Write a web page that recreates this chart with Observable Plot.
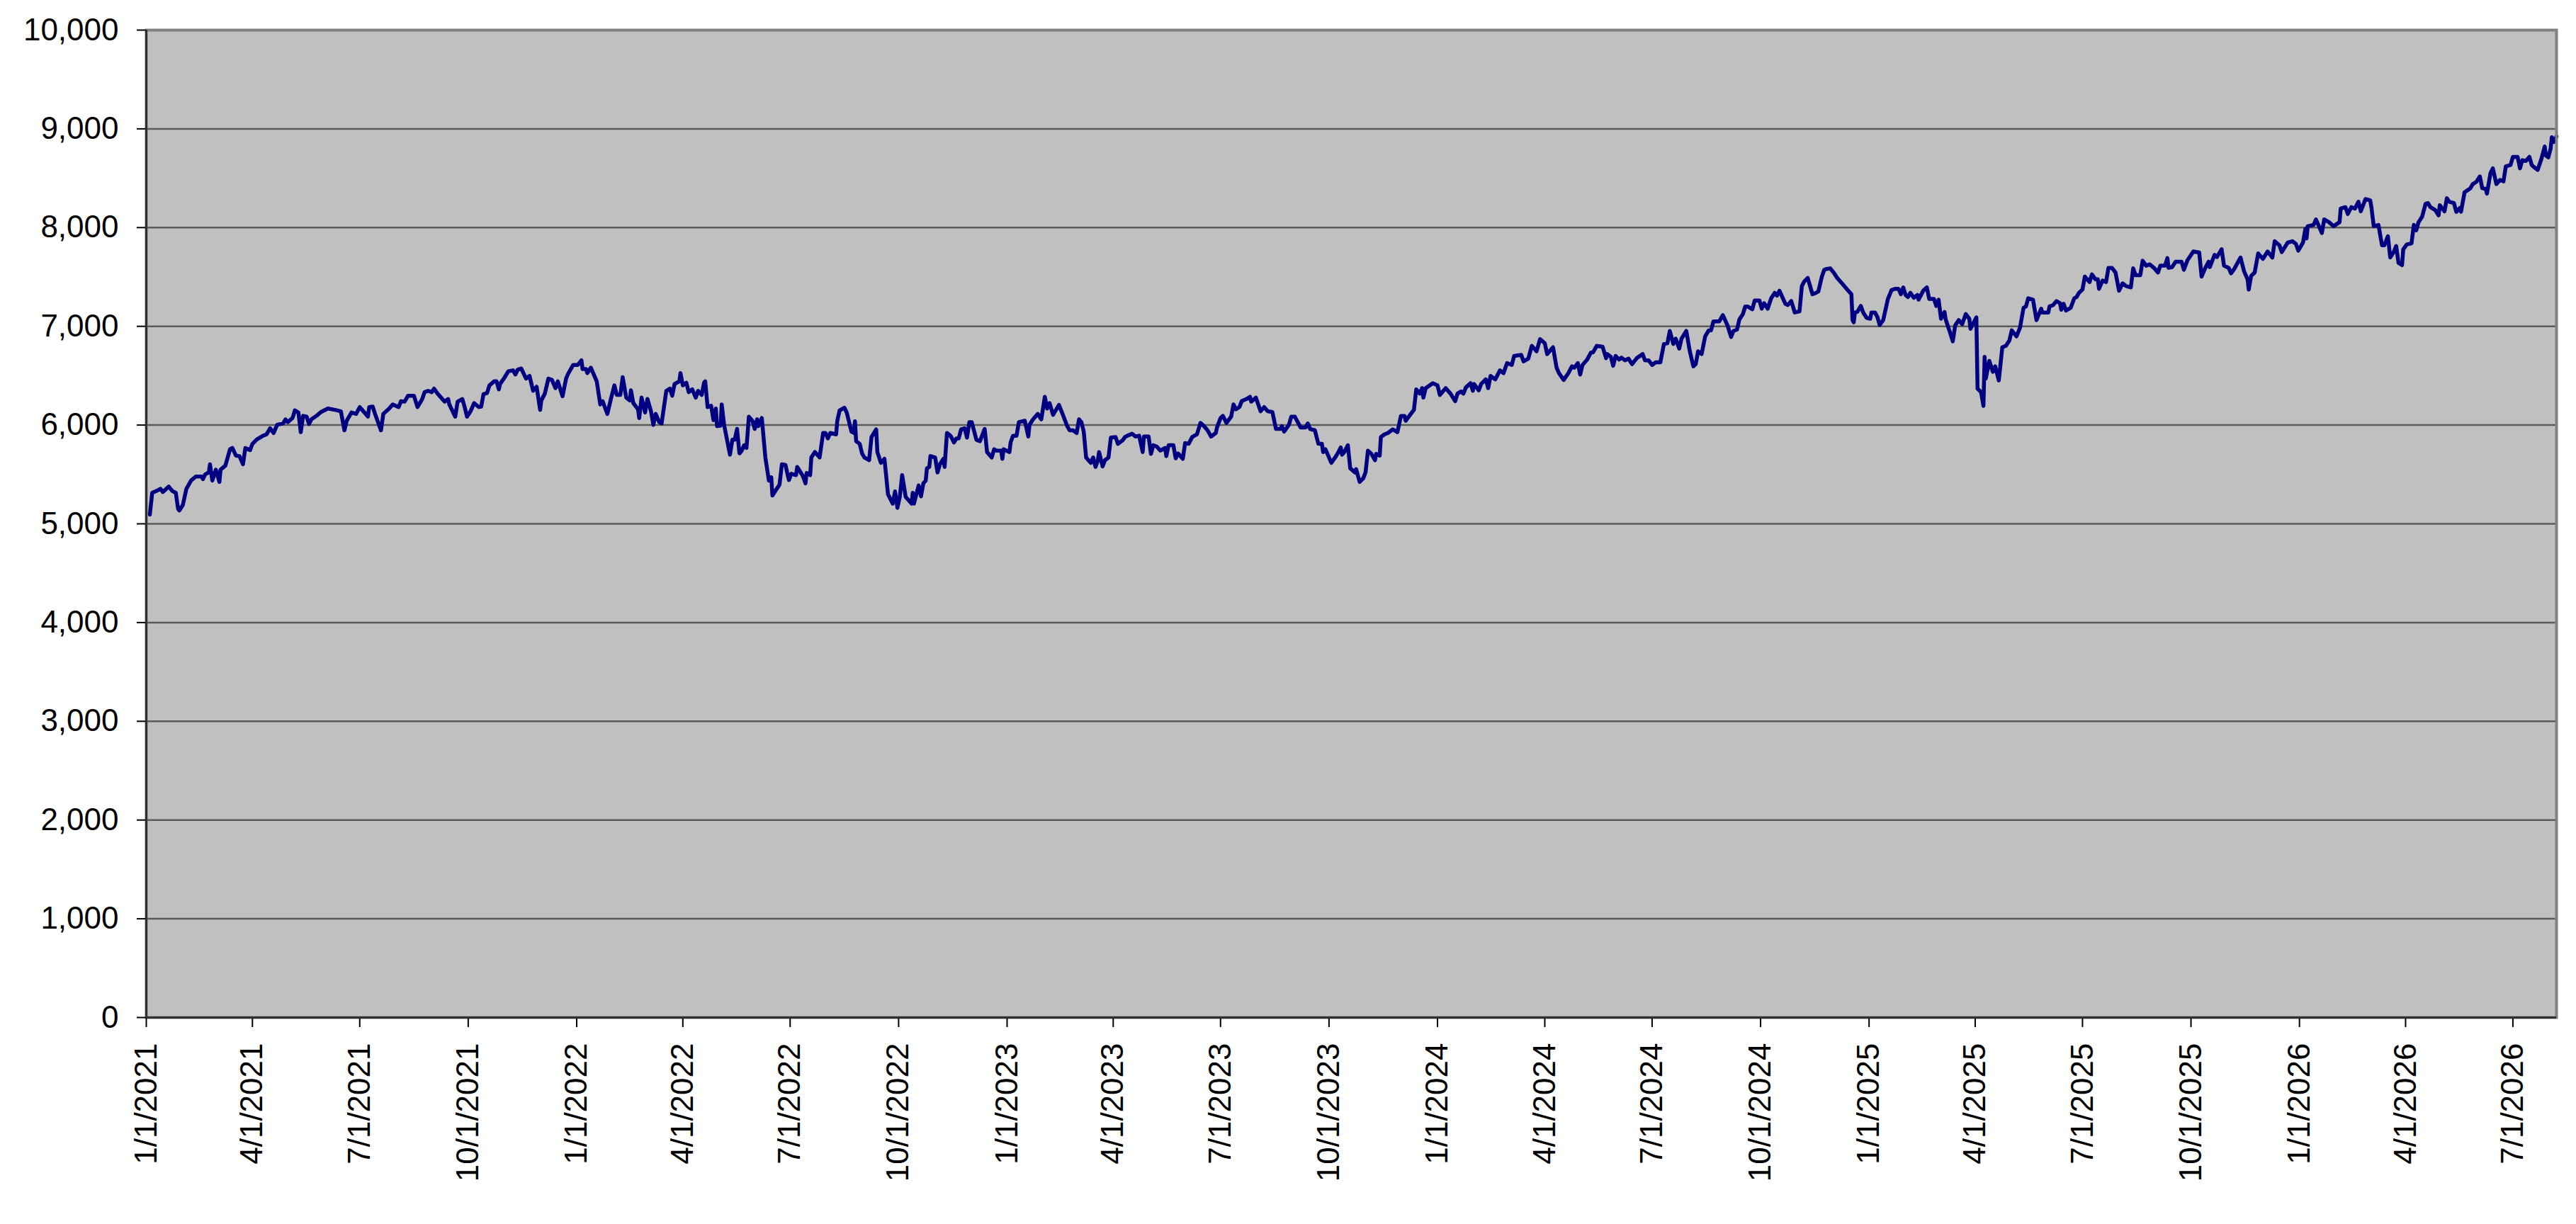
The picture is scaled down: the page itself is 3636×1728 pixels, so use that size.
<!DOCTYPE html>
<html>
<head>
<meta charset="utf-8">
<script src="https://cdn.jsdelivr.net/npm/d3@7"></script>
<script src="https://cdn.jsdelivr.net/npm/@observablehq/plot@0.6"></script>
<style>
  html, body { margin: 0; padding: 0; background: #ffffff; }
  #chart svg { display: block; }
</style>
</head>
<body>
<div id="chart"></div>
<script>
// Series start date; x values are day offsets from this date
const startDate = "2021-01-01";

const dayOffsets = [
  3,5,10,12,14,19,22,25,27,28,31,34,38,42,47,48,50,53,54,56,59,62,63,67,71,73,76,79,82,84,88,90,94,99,102,105,108,111,116,118,120,124,126,129,131,133,136,138,140,145,148,154,160,165,168,170,174,178,181,185,188,189,192,194,199,201,206,209,214,216,219,222,227,230,234,236,239,242,244,247,
  253,256,257,262,264,268,270,272,275,278,282,284,286,289,291,295,297,299,300,304,307,311,313,315,318,322,325,328,331,334,335,338,341,344,347,349,353,356,358,362,366,369,370,373,374,377,382,385,387,391,394,397,399,402,404,407,410,411,413,417,418,420,423,425,428,430,432,435,437,441,444,446,448,452,453,455,458,460,463,466,468,471,473,474,476,479,481,483,484,487,488,490,495,497,499,
  501,503,505,507,509,511,514,516,518,519,522,525,528,530,531,534,537,539,542,544,545,547,551,552,555,557,559,560,563,564,567,569,571,574,576,578,580,585,586,588,592,594,598,600,601,602,605,607,609,613,615,619,620,623,626,629,633,635,637,639,641,644,649,650,651,655,657,659,661,662,664,665,669,671,673,676,677,679,682,685,687,689,691,694,696,698,700,704,707,711,713,717,719,721,725,726,727,732,733,735,738,740,745,748,749,752,
  756,759,762,764,766,769,774,777,781,783,786,789,791,793,795,797,801,803,805,807,808,811,813,816,818,822,824,828,830,832,836,839,842,845,846,850,852,854,857,860,864,865,867,871,873,875,879,881,884,887,891,894,897,900,903,907,908,911,913,916,920,922,924,927,929,933,936,937,941,945,948,951,955,958,962,963,965,969,971,974,979,983,985,987,991,994,997,998,1000,1005,
  1009,1011,1013,1014,1016,1019,1021,1025,1026,1029,1032,1034,1036,1039,1042,1043,1046,1047,1050,1053,1057,1061,1064,1067,1068,1075,1077,1080,1082,1083,1085,1091,1095,1097,1102,1106,1110,1112,1115,1117,1119,1123,1125,1126,1130,1132,1136,1138,1140,1144,1148,1151,1154,1158,1160,1166,1168,1172,1175,1179,1182,1186,1188,1191,1193,1196,1198,1202,1206,1209,1211,1214,1216,1218,1222,1225,1227,1230,1235,1238,1239,1242,1244,1246,1249,1251,1254,1257,
  1260,1264,1269,1271,1274,1277,1280,1284,1287,1290,1292,1295,1297,1300,1302,1306,1309,1312,1314,1316,1319,1322,1325,1327,1329,1334,1337,1341,1344,1346,1349,1351,1354,1356,1358,1362,1364,1368,1370,1372,1375,1378,1381,1383,1385,1390,1392,1395,1398,1402,1404,1406,1409,1413,1416,1418,1421,1423,1425,1428,1431,1434,1438,1443,1446,1447,1448,1449,1451,1454,1456,1459,1462,1463,1466,1468,1470,1473,1477,1480,1483,1486,1488,1490,1492,1494,1496,1499,1502,1503,1507,1510,
  1512,1516,1518,1520,1522,1525,1526,1530,1532,1534,1537,1540,1543,1546,1547,1552,1553,1556,1558,1559,1560,1563,1566,1568,1571,1574,1577,1580,1582,1586,1589,1592,1594,1596,1600,1603,1607,1608,1613,1614,1617,1620,1623,1624,1626,1628,1632,1635,1637,1639,1642,1644,1648,1650,1653,1655,1656,1659,1662,1664,1667,1670,1673,1676,1679,1683,1685,1687,1691,1693,1696,1699,1703,1706,1708,1712,1714,1715,1718,1721,1726,1728,1731,1736,1741,1743,1746,1749,1750,1754,1756,1760,1762,
  1766,1768,1771,1776,1779,1782,1783,1785,1788,1791,1795,1799,1803,1805,1809,1811,1816,1820,1823,1825,1829,1831,1832,1833,1838,1840,1845,1847,1851,1855,1860,1861,1865,1867,1870,1873,1876,1878,1882,1886,1887,1889,1893,1896,1898,1901,1903,1906,1908,1910,1913,1914,1917,1921,1923,1925,1927,1930,1933,1935,1937,1941,1944,1945,1949,1951,1953,1957,1959,1962,1963,1966,1971,1973,1976,1979,1981,1984,1985,1988,1990,1993,1996,1999,2001,2005,2007,2011,2013,2015,2018,2021,2023,2025,2028,2031,2034,2035,2037,2039,2040,2042,2044
];

// Values at each of those days
const values = [
  5094,5314,5341,5355,5322,5377,5333,5314,5149,5135,5190,5355,5438,5479,5479,5452,5501,5520,5603,5438,5548,5424,5548,5589,5755,5768,5691,5686,5603,5768,5746,5810,5857,5892,5906,5967,5920,6003,6016,6058,6030,6071,6149,6127,5928,6093,6085,6011,6058,6099,6132,6168,6154,6140,5947,6044,6127,6113,6182,6127,6085,6182,6187,6113,5947,6113,6168,6209,6182,6242,6237,6297,6297,6182,6264,6333,6347,6333,6369,6319,
  6237,6264,6209,6085,6237,6264,6182,6085,6140,6223,6182,6187,6314,6325,6402,6443,6443,6361,6416,6485,6545,6554,6512,6562,6573,6471,6498,6347,6388,6154,6250,6319,6471,6457,6374,6443,6292,6471,6526,6609,6609,6656,6567,6567,6526,6581,6443,6209,6242,6113,6264,6402,6305,6305,6485,6278,6250,6352,6223,6160,6071,6278,6127,6264,6140,6003,6113,6030,6016,6347,6369,6297,6416,6443,6526,6402,6429,6333,6361,6278,6347,6305,6429,6443,6182,6195,6050,6168,5989,5994,6209,6003,5700,5851,5851,
  5961,5713,5741,5796,5768,6085,6044,5961,6058,5989,6071,5672,5438,5471,5287,5342,5397,5603,5598,5493,5443,5507,5493,5576,5520,5479,5410,5515,5493,5672,5727,5700,5672,5920,5920,5865,5920,5906,6044,6149,6176,6127,5934,5920,6038,5837,5810,5713,5672,5644,5879,5956,5727,5617,5658,5300,5204,5328,5162,5273,5493,5273,5204,5314,5204,5388,5278,5410,5438,5562,5576,5686,5672,5520,5603,5658,5576,5920,5892,5824,5865,5865,5956,5967,5873,6030,6030,5851,5837,5961,5727,5672,5755,5741,5741,5658,5755,5727,5824,5892,5892,6030,6044,5884,6003,6058,
  6113,6058,6286,6168,6223,6104,6204,6113,5989,5947,5947,5920,6058,6030,5934,5672,5617,5672,5576,5644,5727,5581,5644,5672,5873,5879,5810,5846,5879,5892,5912,5884,5892,5727,5884,5884,5708,5796,5782,5741,5768,5686,5796,5796,5664,5713,5658,5818,5810,5879,5906,6022,5989,5947,5884,5920,5975,6071,6093,6022,6085,6209,6160,6182,6242,6264,6286,6237,6278,6140,6182,6140,6132,5961,5961,5989,5934,6003,6085,6085,5975,5975,6016,5961,5947,5810,5810,5727,5755,5617,
  5686,5727,5774,5700,5727,5796,5562,5520,5554,5424,5460,5520,5741,5708,5644,5708,5691,5879,5906,5920,5956,5928,6093,6093,6044,6154,6361,6319,6374,6278,6374,6424,6402,6305,6374,6319,6242,6319,6341,6319,6380,6424,6347,6416,6352,6416,6463,6374,6498,6463,6554,6526,6628,6609,6700,6711,6645,6673,6802,6747,6870,6829,6719,6761,6788,6581,6526,6457,6526,6595,6581,6628,6512,6609,6664,6733,6738,6802,6793,6678,6719,6692,6600,6700,6664,6683,6656,6673,
  6617,6678,6719,6656,6656,6609,6636,6636,6821,6829,6953,6821,6876,6774,6876,6953,6747,6595,6617,6747,6719,6898,6959,6959,7050,7050,7113,7008,6892,6953,6967,7069,7124,7201,7201,7173,7262,7262,7179,7234,7179,7284,7339,7311,7361,7229,7215,7256,7140,7151,7407,7454,7490,7325,7339,7353,7504,7573,7581,7587,7545,7490,7435,7366,7325,7063,7041,7140,7146,7206,7140,7085,7077,7140,7140,7096,7014,7063,7278,7366,7380,7380,7325,7394,7317,7297,7339,7289,7317,7270,7361,7394,
  7278,7278,7206,7270,7077,7146,7069,6926,6848,7008,7063,7022,7124,7077,6975,7091,6369,6333,6195,6691,6471,6650,6540,6595,6452,6788,6802,6857,6959,6898,6986,7187,7201,7284,7270,7063,7179,7140,7140,7201,7215,7256,7234,7168,7229,7160,7187,7284,7297,7339,7372,7504,7449,7526,7476,7476,7380,7463,7449,7592,7592,7545,7361,7435,7408,7394,7587,7518,7518,7664,7614,7628,7587,7545,7614,7614,7691,7592,7600,7655,7655,7573,7669,7758,7747,7504,7587,7655,7600,7724,7702,7780,7614,
  7592,7537,7587,7697,7559,7476,7372,7510,7545,7738,7683,7758,7697,7862,7821,7752,7848,7862,7834,7766,7848,7986,7890,8014,8027,8083,7945,8083,8055,8014,8055,8193,8207,8138,8207,8193,8262,8165,8289,8276,8207,8014,8027,7821,7821,7912,7697,7752,7813,7642,7620,7779,7829,7840,8027,7972,8055,8110,8242,8248,8207,8179,8124,8226,8165,8297,8262,8248,8160,8198,8160,8358,8399,8441,8463,8518,8399,8391,8344,8551,8600,8441,8482,8468,8620,8634,8716,8716,8600,8683,8675,8716,8634,8612,8584,8689,8821,8730,8711,8799,8915,8868,8923
];

// Axis tick values and labels
const yTicks = [0, 1000, 2000, 3000, 4000, 5000, 6000, 7000, 8000, 9000, 10000];
const xTickDates = [
  "2021-01-01","2021-04-01","2021-07-01","2021-10-01",
  "2022-01-01","2022-04-01","2022-07-01","2022-10-01",
  "2023-01-01","2023-04-01","2023-07-01","2023-10-01",
  "2024-01-01","2024-04-01","2024-07-01","2024-10-01",
  "2025-01-01","2025-04-01","2025-07-01","2025-10-01",
  "2026-01-01","2026-04-01","2026-07-01"
];

const start = new Date(startDate + "T00:00:00Z");
const data = dayOffsets.map((d, i) => ({date: d3.utcDay.offset(start, d), value: values[i]}));
const end = d3.utcDay.offset(start, dayOffsets[dayOffsets.length - 1]);
const xTicks = xTickDates.map(s => new Date(s + "T00:00:00Z"));
const fmtDate = d3.utcFormat("%-m/%-d/%Y");
const fmtNum = d3.format(",");

const chart = Plot.plot({
  width: 3636,
  height: 1728,
  marginLeft: 206,
  marginRight: 28,
  marginTop: 42,
  marginBottom: 292,
  style: {
    fontFamily: "'Liberation Sans', Arial, sans-serif",
    fontSize: "44px",
    color: "#000",
    background: "#ffffff",
    overflow: "visible"
  },
  x: {type: "utc", domain: [start, end], label: null},
  y: {domain: [0, 10000], label: null},
  marks: [
    Plot.frame({fill: "#c0c0c0"}),
    Plot.gridY(yTicks, {stroke: "#5a5a5a", strokeOpacity: 1, strokeWidth: 2.5}),
    Plot.line(data, {x: "date", y: "value", stroke: "#000080", strokeWidth: 5.5, strokeLinejoin: "round"}),
    Plot.frame({stroke: "#808080", strokeWidth: 4}),
    Plot.axisY(yTicks, {label: null, tickFormat: fmtNum, tickSize: 13, tickPadding: 26, strokeWidth: 2, fontSize: 44}),
    Plot.axisX(xTicks, {label: null, tickFormat: fmtDate, tickRotate: -90, tickSize: 14, tickPadding: 22, strokeWidth: 2, fontSize: 44}),
    Plot.ruleX([start], {stroke: "#303030", strokeWidth: 3}),
    Plot.ruleY([0], {stroke: "#303030", strokeWidth: 3})
  ]
});

document.getElementById("chart").appendChild(chart);
</script>
</body>
</html>
